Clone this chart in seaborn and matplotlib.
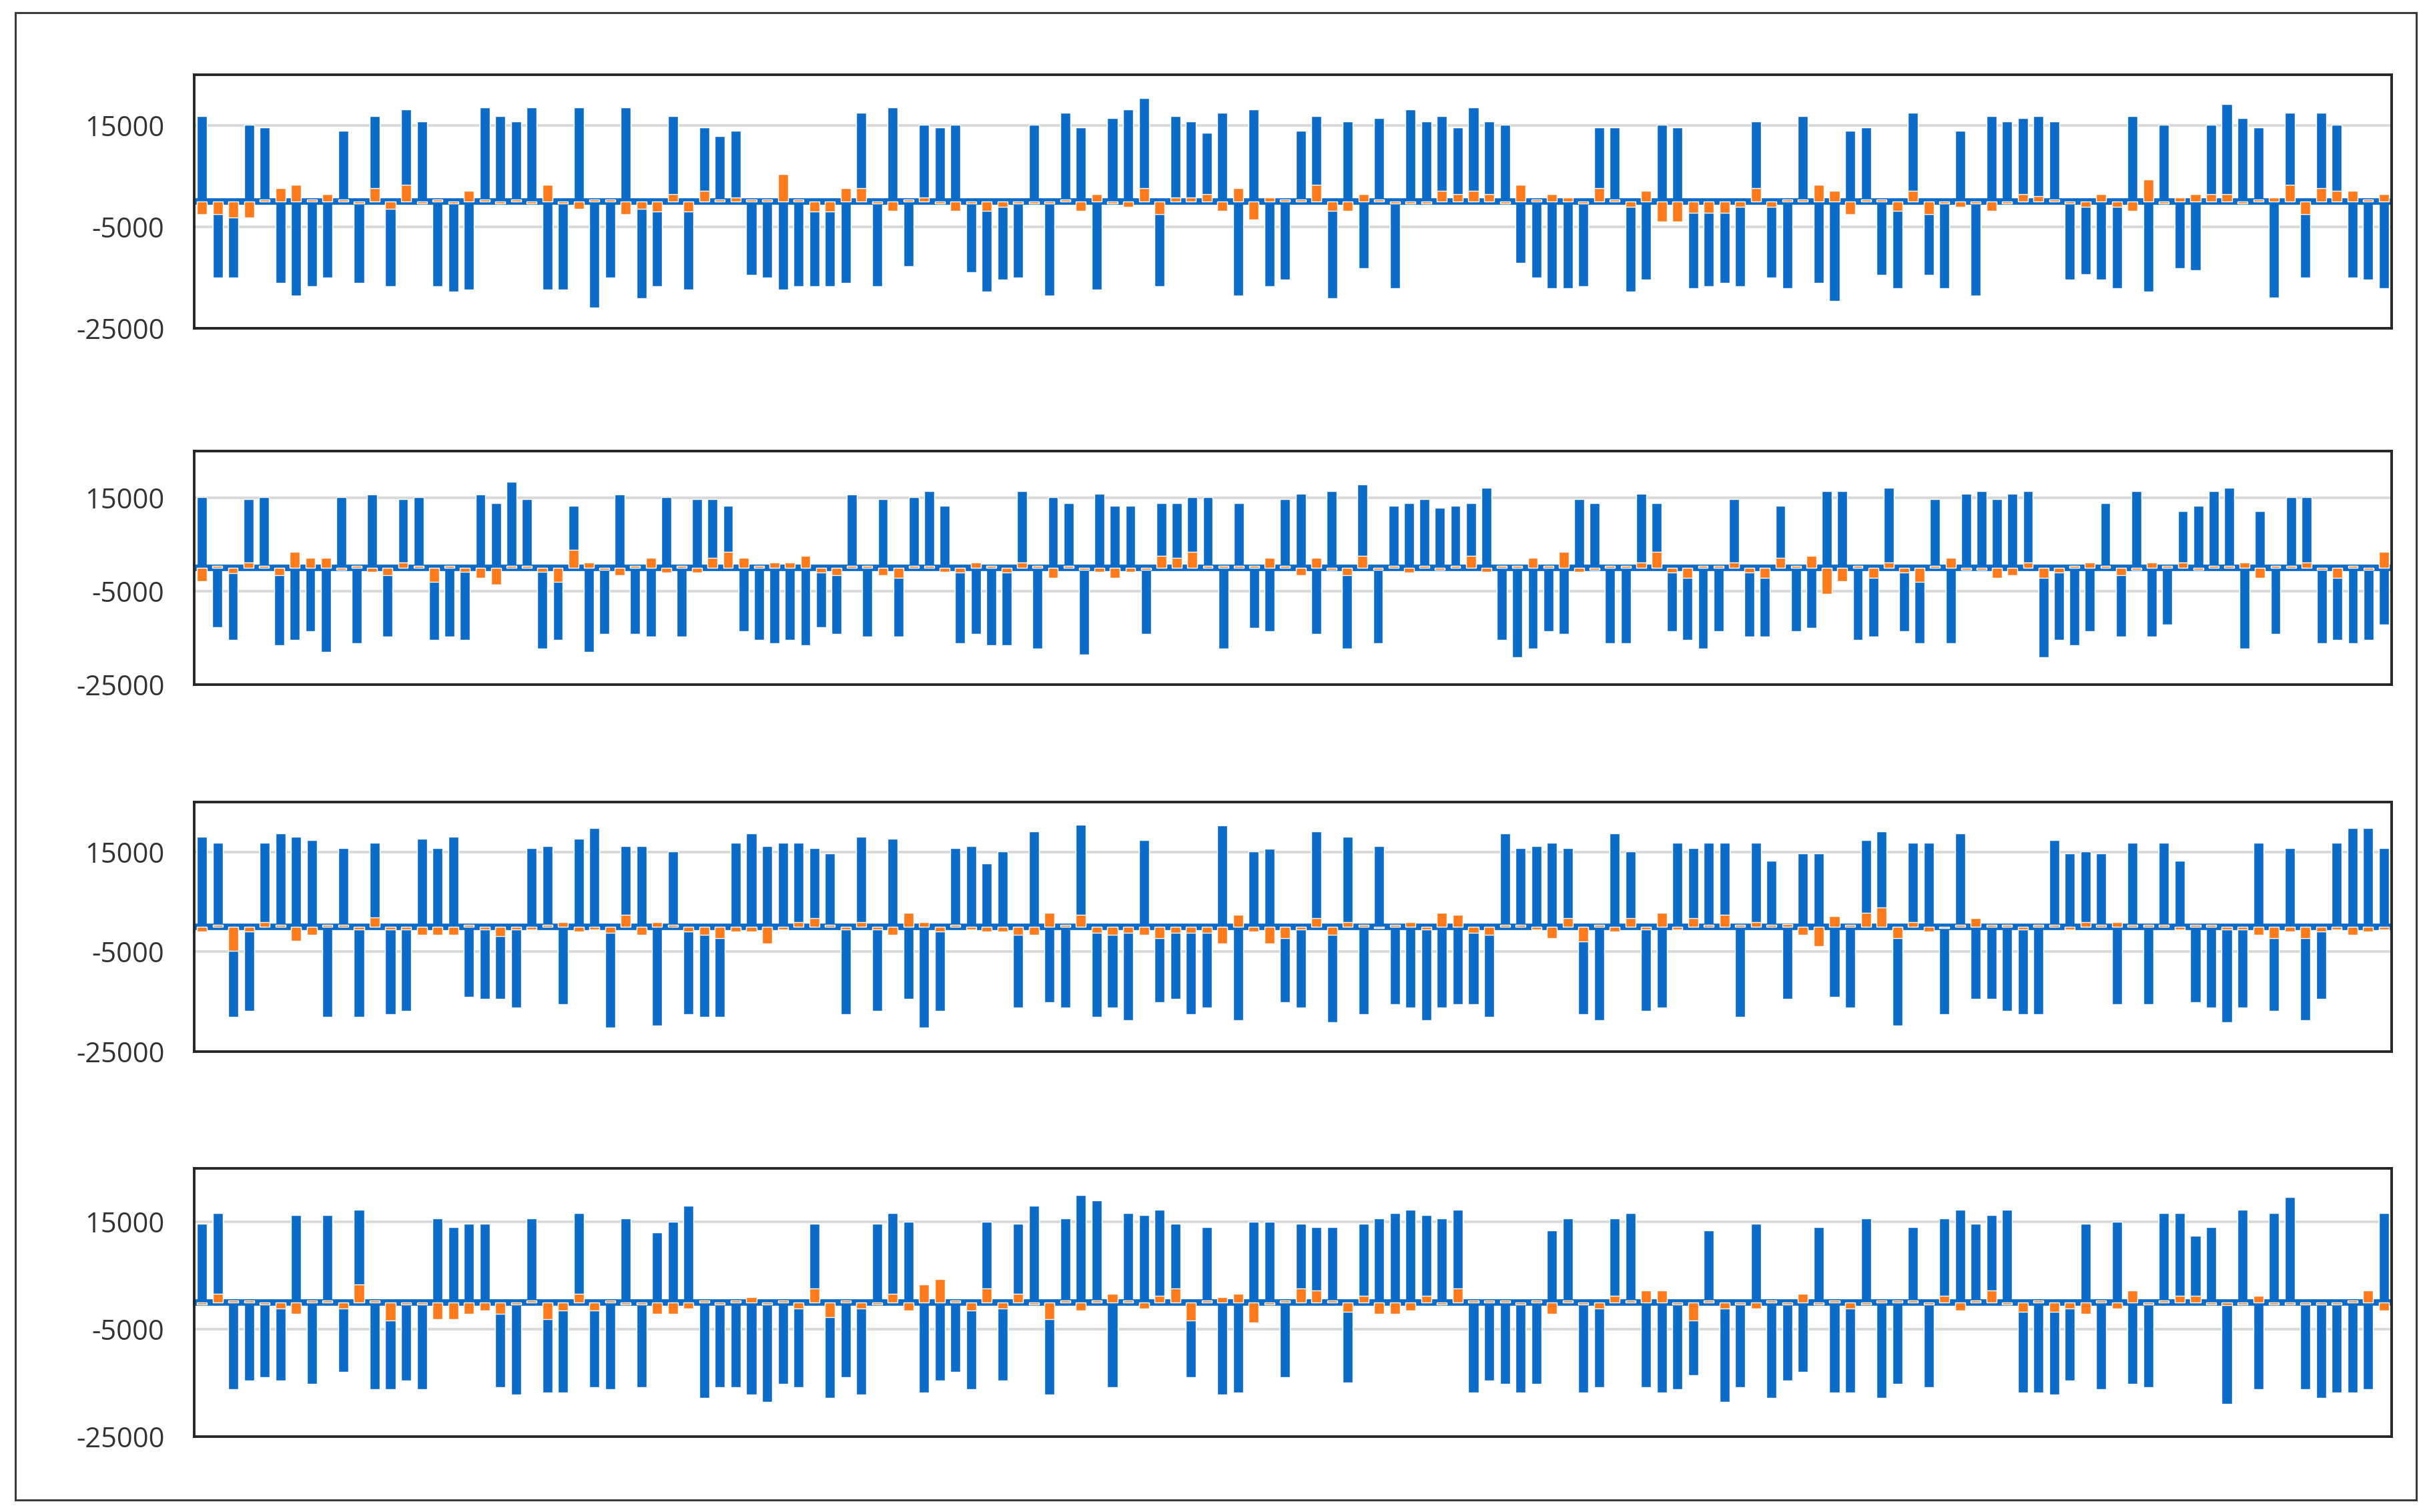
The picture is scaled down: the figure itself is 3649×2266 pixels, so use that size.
import numpy as np
import pandas as pd
import matplotlib
matplotlib.use('Agg')
import matplotlib.pyplot as plt
import seaborn as sns
from matplotlib.patches import Rectangle

# ==================== style ====================
sns.set_style('white')
plt.rcParams['font.family'] = ['Open Sans', 'DejaVu Sans']
plt.rcParams['axes.unicode_minus'] = False

# ==================== data ====================
ytick_vals = [-25000, -5000, 15000]
ytick_labels = ['-25000', '-5000', '15000']

blue_1 = [
    16800, -15000, -15000, 15100, 14650, -16000, -18500, -16700, -15000, 14000,
    -16000, 16850, -16700, 18150, 15750, -16700, -17800, -17400, 18600, 16850,
    15750, 18600, -17400, -17400, 18600, -20900, -15000, 18600, -19100, -16700,
    16850, -17400, 14650, 12900, 14000, -14500, -15000, -17400, -16700, -16700,
    -16700, -16000, 17500, -16700, 18600, -12800, 15100, 14650, 15100, -13900,
    -17800, -15400, -15000, 15100, -18500, 17500, 14650, -17400, 16400, 18150,
    20350, -16700, 16850, 15750, 13550, 17500, -18500, 18150, -16700, -15400,
    14000, 16850, -19100, 15750, -13200, 16400, -17100, 18150, 15750, 16850,
    14650, 18600, 15750, 15100, -12100, -15000, -17100, -17100, -16700, 14650,
    14650, -17800, -15400, 15100, 14650, -17100, -16700, -16000, -16700, 15750,
    -15000, -17100, 16850, -16000, -19600, 14000, 14650, -14500, -17100, 17500,
    -14500, -17100, 14000, -18500, 16850, 15750, 16400, 16850, 15750, -15400,
    -14300, -15400, -17100, 16850, -17800, 15100, -13200, -13600, 15100, 19250,
    16400, 14650, -18900, 17500, -15000, 17500, 15100, -15000, -15400, -17100,
]
orange_1 = [
    -2500, -2500, -3100, -3100, 400, 2600, 3250, 400, 1500, 400,
    -400, 2600, -1400, 3250, -400, 400, -400, 2150, 400, -400,
    400, -400, 3250, -400, -1400, 400, 400, -2500, -1400, -2000,
    1500, -2000, 2150, 400, 800, 400, 400, 5400, 400, -2000,
    -2000, 2600, 2600, -400, -1800, 400, 800, -400, -1800, -400,
    -1800, -1100, -400, -400, -400, 400, -1800, 1500, -400, -1100,
    2600, -2500, 800, 800, 1500, -1800, 2600, -3500, 800, 400,
    400, 3250, -1800, -1800, 1500, 400, -400, -400, -400, 2150,
    1500, 2150, 1500, -400, 3250, 400, 1500, 800, -400, 2600,
    400, -1100, 2150, -4000, -4000, -2200, -2200, -2200, -1100, 2600,
    -1100, 400, 400, 3250, 2150, -2500, 400, 400, -1800, 2150,
    -2500, -400, -1100, -400, -1800, -400, 1500, 1000, 400, -400,
    -1100, 1500, -1100, -1800, 4300, -400, 800, 1500, 1500, 1500,
    -400, 400, 800, 3250, -2500, 2600, 2150, 2150, 400, 1500,
]

blue_2 = [
    15200, -12700, -15400, 14650, 15200, -16600, -15400, -13600, -18000, 15200,
    -16100, 15700, -14700, 14650, 15200, -15400, -14700, -15400, 15700, 13900,
    18400, 14650, -17300, -15400, 13300, -18000, -14200, 15700, -14200, -14700,
    15200, -14700, 14650, 14650, 13300, -13600, -15400, -16100, -15400, -16600,
    -12700, -14200, 15700, -14700, 14650, -14700, 15200, 16400, 13300, -16100,
    -14200, -16600, -16600, 16400, -17300, 15200, 13900, -18500, 15800, 13300,
    13300, -14200, 13900, 13900, 15200, 15200, -17300, 13900, -12800, -13600,
    14650, 15800, -14200, 16400, -17300, 17800, -16100, 13300, 13900, 14650,
    12800, 13300, 13900, 17100, -15400, -19200, -17300, -13600, -14200, 14650,
    13900, -16100, -16100, 15800, 13900, -13600, -15400, -17300, -13600, 14650,
    -14700, -14700, 13300, -13600, -12800, 16400, 16400, -15400, -14700, 17100,
    -13600, -16100, 14650, -16100, 15800, 16400, 14650, 15800, 16400, -19200,
    -15400, -16600, -13600, 13900, -14700, 16400, -14700, -12200, 12100, 13300,
    16400, 17100, -17300, 12100, -14200, 15200, 15200, -16100, -15400, -16100,
    -15400, -12200,
]
orange_2 = [
    -2800, 400, -1150, 1200, 400, -1600, 3400, 2200, 2200, -400,
    400, -900, -1600, 1200, 400, -3000, 400, -900, -2200, -3500,
    400, 400, -900, -3000, 3900, 1200, -400, -1600, 400, 2200,
    -1000, 400, -1000, 2200, 3400, 2200, 400, 1200, 1200, 2600,
    -1000, -1600, 400, 400, -1600, -2200, 400, 400, -900, -1000,
    1200, 400, -1000, 1200, 400, -2200, 400, -400, -900, -2200,
    -900, -400, 2600, 2200, 3400, 400, 400, 400, 400, 2200,
    400, -1600, 2200, -400, -1600, 2600, -400, 400, -1000, 400,
    -400, 400, 2600, -900, 400, 400, 2200, 400, 3400, -900,
    -400, 400, 400, 1200, 3400, -1000, -2200, 400, 400, 1200,
    -1000, -2200, 2200, 400, 2600, -5500, -2800, 400, -2200, 1200,
    -1000, -3000, 400, 2200, -400, -400, -2200, -1600, 1200, -2200,
    -1000, 400, 1200, 400, -1600, -400, 1200, 400, 1200, -400,
    400, 400, 1200, -2200, 400, 400, 1200, -400, -2200, 400,
    -400, 3400,
]

blue_3 = [
    18000, 16900, -18000, -16900, 16900, 18700, 18000, 17400, -18000, 15800,
    -18000, 16900, -17500, -16900, 17600, 15800, 18000, -14000, -14400, -14400,
    -16200, 15800, 16200, -15500, 17600, 19800, -20200, 16200, 16200, -19800,
    15100, -17500, -18000, -18000, 16900, 18700, 16200, 16900, 16900, 15800,
    14700, -17500, 18000, -16900, 17600, -14400, -20200, -16900, 15800, 16200,
    12700, 15100, -16200, 19100, -15100, -16200, 20500, -18000, -16200, -18700,
    17400, -15100, -14400, -17500, -16200, 20300, -18700, 15100, 15600, -15100,
    -16200, 19100, -19100, 18000, -17500, 16200, -15500, -16200, -18700, -16200,
    -15500, -15500, -18000, 18700, 15800, 16200, 16900, 15800, -17500, -18700,
    18700, 15100, -16900, -16200, 16900, 15800, 16900, 16900, -18000, 16900,
    13300, -14400, 14700, 14700, -14000, -16200, 17400, 19100, -19800, 16900,
    16900, -17500, 18700, -14400, -14400, -16900, -17500, -17500, 17400, 14700,
    15100, 14700, -15500, 16900, -15500, 16900, 13300, -15100, -16200, -19100,
    -16200, 16900, -16900, 15800, -18700, -14400, 16900, 19800, 19800, 15800,
]
orange_3 = [
    -1000, 400, -4800, -1000, 1000, 400, -2800, -1600, 400, 400,
    -500, 1900, -500, -500, -1600, -1600, -1600, 400, -500, -1900,
    -500, -500, 400, 1000, -1000, -500, -1200, 2400, -1600, 1000,
    400, -1000, -1600, -2300, -1000, -1000, -3400, -500, 1000, 1700,
    400, -500, 1000, -500, -1600, 2800, 1000, -1000, 400, -500,
    -1000, -1000, -1600, -1600, 2800, 400, 2400, -1200, -1600, -1200,
    -1600, -2300, -1200, -1200, -1200, -3400, 2400, -1000, -3400, -2300,
    -500, 1700, -1600, 1000, 400, -300, 400, 1000, -500, 2800,
    2400, -1200, -1600, 400, 400, -500, -2300, 1700, -3000, 400,
    -1000, 1700, -500, 2800, -500, 1700, 400, 2400, 400, 1000,
    400, 600, -1600, -3900, 2100, 400, 2800, 3900, -2300, 1000,
    -1000, -300, 400, 1700, 400, 400, -500, 400, 400, -500,
    1000, 400, 1000, 400, 400, 400, -500, 400, 400, -500,
    -500, -1600, -2300, -1000, -2300, -1000, -500, -1600, -1000, -500,
]

blue_4 = [
    14650, 16700, -16200, -14500, -13900, -14500, 16300, -15200, 16300, -12900,
    17350, -16200, -16200, -14500, -16200, 15700, 14000, 14650, 14650, -15800,
    -17200, 15700, -16800, -16800, 16700, -15800, -16200, 15700, -15800, 13000,
    15100, 18000, -17800, -15800, -15800, -17200, -18500, -15200, -15800, 14650,
    -17800, -13900, -17200, 14650, 16700, 15100, -16800, -14500, -12900, -16200,
    15100, -14500, 14650, 18000, -17200, 15700, 20000, 19000, -15800, 16700,
    16300, 17350, 14650, -13900, 14000, -17200, -16800, 15100, 15100, -13900,
    14650, 14000, 14000, -14950, 14650, 15700, 16700, 17350, 16300, 15700,
    17350, -16800, -14500, -15200, -16800, -15200, 13400, 15700, -16800, -15800,
    15700, 16700, -15800, -16800, -16200, -13500, 13400, -18500, -15800, 14650,
    -17800, -14500, -12900, 14000, -16800, -16800, 15700, -17800, -15200, 14000,
    -15800, 15700, 17350, 14650, 16300, 17350, -16800, -16800, -17200, -14500,
    14650, -16200, 15100, -15200, -15800, 16700, 16700, 12400, 14000, -18900,
    17350, -16200, 16700, 19600, -16200, -17800, -16800, -16800, -16200, 16700,
]
orange_4 = [
    -400, 1600, 400, 400, -400, -1100, -2100, 400, 400, -1100,
    3300, 400, -3350, -400, -400, -3150, -3150, -2100, -1500, -2100,
    -400, 400, -3150, -1500, 1600, -1500, 400, -400, -400, -2100,
    -2100, -1100, 400, -400, 400, 1000, -400, 400, -1100, 2600,
    -2700, 400, -1100, -400, 1600, -1500, 3300, 4300, 400, -1500,
    2600, -1100, 1600, -400, -3150, 400, -1500, 400, 1600, 400,
    -1100, 1200, 2600, -3350, 400, 1000, 1600, -3750, -400, 400,
    2600, 2200, 400, -1700, 1200, -2100, -2100, -1500, 1200, -400,
    2600, 400, 400, 400, -400, 400, -2100, 400, -400, -1100,
    1200, 400, 2200, 2200, -400, -3350, 400, -1100, -400, -1100,
    400, -400, 1600, -400, 400, -1100, -400, 400, 400, 400,
    -400, 1200, -1500, 400, 2200, -400, -1700, 400, -1700, -1100,
    -2100, 400, -1100, 2200, -400, 400, 1200, 1200, -400, -450,
    -400, 1200, -400, -400, -400, -400, -400, 400, 2200, -1500,
]

# ==================== layout ====================
BLUE = '#0A6BC9'
ORANGE = '#FF7A1A'
W_PX, H_PX = 3649, 2266

# panel frames in pixels: (top, bottom), shared left/right
panel_rows = [(112, 492), (676, 1026), (1202, 1576), (1751, 2153)]
left_px, right_px = 291, 3584

panels = [(blue_1, orange_1), (blue_2, orange_2), (blue_3, orange_3), (blue_4, orange_4)]

fig = plt.figure(figsize=(W_PX / 100, H_PX / 100), dpi=100)

for (blue, orange), (top, bot) in zip(panels, panel_rows):
    ax = fig.add_axes([left_px / W_PX, 1 - bot / H_PX,
                       (right_px - left_px) / W_PX, (bot - top) / H_PX])
    n = len(blue)
    df = pd.DataFrame({'idx': np.arange(n), 'blue': blue, 'orange': orange})

    sns.barplot(data=df, x='idx', y='blue', color=BLUE, saturation=1,
                width=0.64, errorbar=None, ax=ax, zorder=2)
    # thick blue zero line, as in the original
    ax.axhline(0, color=BLUE, lw=7, zorder=2.5)
    sns.barplot(data=df, x='idx', y='orange', color=ORANGE, saturation=1,
                width=0.64, errorbar=None, ax=ax, zorder=3)

    ax.set_xlim(-0.5, n - 0.5)
    ax.set_ylim(-25000, 25000)
    ax.set_yticks(ytick_vals)
    ax.set_yticklabels(ytick_labels)
    ax.set_xticks([])
    ax.set_xlabel('')
    ax.set_ylabel('')

    ax.set_axisbelow(True)
    ax.yaxis.grid(True, color='#D9D9D9', lw=2.8)
    ax.tick_params(axis='y', length=0, pad=32, labelsize=30, labelcolor='#333333')

    for sp in ax.spines.values():
        sp.set_visible(True)
        sp.set_color('#262626')
        sp.set_linewidth(2.8)

# outer border round the whole chart
fig.patches.append(Rectangle((23 / W_PX, 1 - 2248 / H_PX), (3621 - 23) / W_PX,
                             (2248 - 19) / H_PX, transform=fig.transFigure,
                             fill=False, edgecolor='#3A3A3A', lw=2.2))

fig.savefig('out.png', dpi=100, facecolor='white')
